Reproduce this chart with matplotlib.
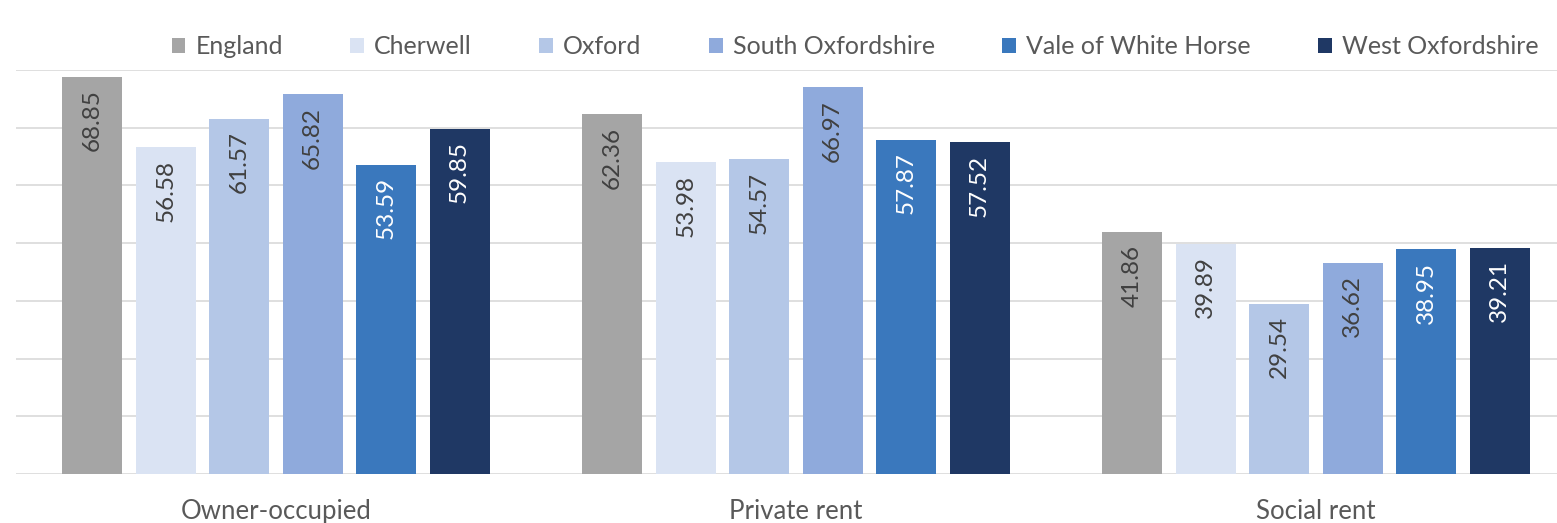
import numpy as np
import matplotlib.pyplot as plt

# Tenure categories and values per area
categories = ['Owner-occupied', 'Private rent', 'Social rent']
areas = ['England', 'Cherwell', 'Oxford', 'South Oxfordshire', 'Vale of White Horse', 'West Oxfordshire']
england = [68.85, 62.36, 41.86]
cherwell = [56.58, 53.98, 39.89]
oxford = [61.57, 54.57, 29.54]
south_oxon = [65.82, 66.97, 36.62]
vale = [53.59, 57.87, 38.95]
west_oxon = [59.85, 57.52, 39.21]

series = [england, cherwell, oxford, south_oxon, vale, west_oxon]
colors = ['#A5A5A5', '#DAE3F3', '#B4C7E7', '#8FAADC', '#3A78BD', '#1F3864']
label_colors = ['#404040', '#404040', '#404040', '#404040', 'white', 'white']

plt.rcParams['font.family'] = ['Lato', 'DejaVu Sans']

fig = plt.figure(figsize=(15.57, 5.23), dpi=100)
W, H = 1557, 523
ax = fig.add_axes([16 / W, (H - 474) / H, 1541 / W, (474 - 70) / H])

x = np.arange(len(categories))
pitch = 0.1412
width = 0.1154

for i, (vals, name) in enumerate(zip(series, areas)):
    pos = x + (i - 2.5) * pitch
    ax.bar(pos, vals, width, color=colors[i], label=name, zorder=2)
    for px, v in zip(pos, vals):
        ax.annotate(f'{v:.2f}', (px, v), xytext=(0, -9), textcoords='offset points',
                    rotation=90, ha='center', va='top', fontsize=17.5,
                    color=label_colors[i], zorder=3)

ax.set_xlim(-0.5, -0.5 + 1541 / 520)
ax.set_ylim(0, 70)
ax.set_yticks(np.arange(0, 71, 10))
ax.yaxis.grid(True, color='#D9D9D9', linewidth=1.2, zorder=0)
ax.set_yticklabels([])
ax.tick_params(axis='y', length=0)
ax.set_xticks(x)
ax.set_xticklabels(categories, fontsize=18.5, color='#595959')
ax.tick_params(axis='x', length=0, pad=18)
for s in ax.spines.values():
    s.set_visible(False)

leg = fig.legend(loc='center', bbox_to_anchor=(855 / W, 1 - 47 / H), ncol=6, frameon=False,
                 fontsize=18, handlelength=0.55, handleheight=0.55, handletextpad=0.4,
                 columnspacing=2.7, labelcolor='#595959')

fig.savefig('out.png', dpi=100)
